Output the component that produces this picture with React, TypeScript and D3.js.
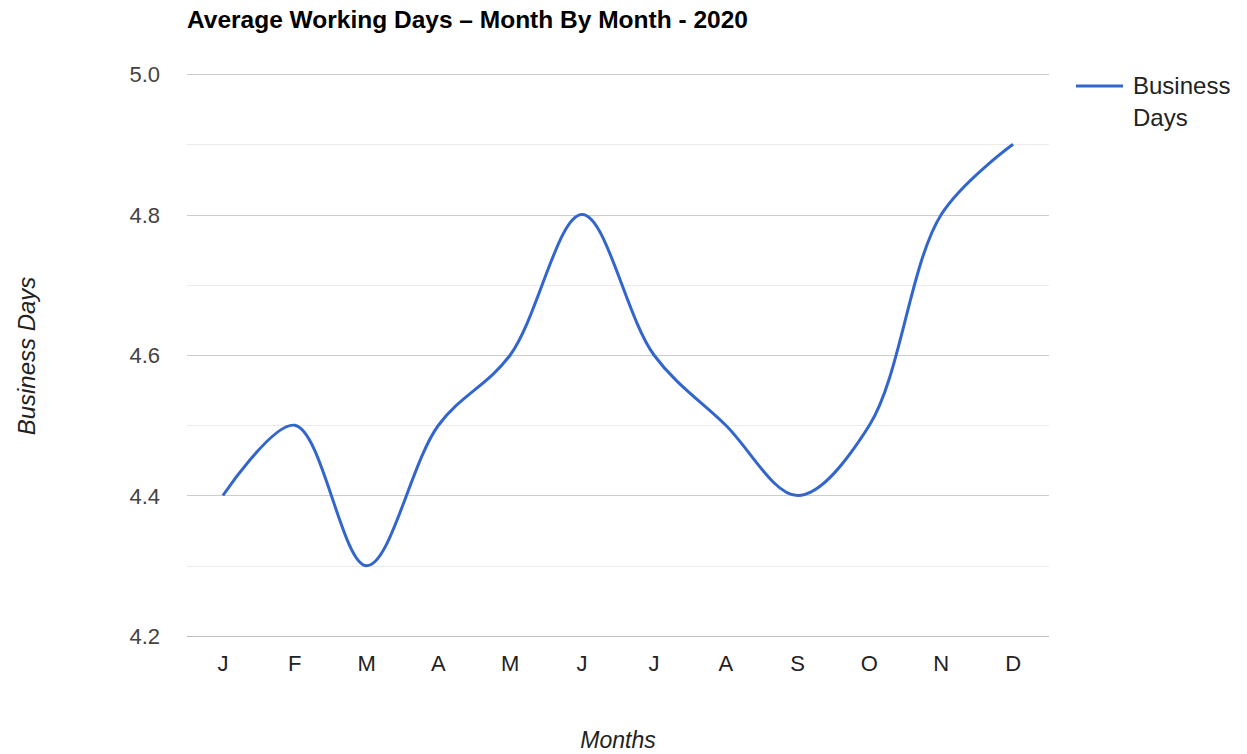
import React, { useEffect, useRef } from 'react';
import * as d3 from 'd3';

const months = ['J', 'F', 'M', 'A', 'M', 'J', 'J', 'A', 'S', 'O', 'N', 'D'];
const businessDays = [4.4, 4.5, 4.3, 4.5, 4.6, 4.8, 4.6, 4.5, 4.4, 4.5, 4.8, 4.9];
const majorTicks = [4.2, 4.4, 4.6, 4.8, 5.0];
const minorTicks = [4.3, 4.5, 4.7, 4.9];

const WIDTH = 1247;
const HEIGHT = 754;
const FONT = 'Arial, "Liberation Sans", sans-serif';

const App: React.FC = () => {
  const svgRef = useRef<SVGSVGElement | null>(null);

  useEffect(() => {
    const svgEl = svgRef.current;
    if (!svgEl) return;

    const margin = { top: 74, right: 198, bottom: 118, left: 187 };
    const innerWidth = WIDTH - margin.left - margin.right;
    const innerHeight = HEIGHT - margin.top - margin.bottom;

    const svg = d3.select(svgEl);
    svg.selectAll('*').remove();

    const x = d3.scaleBand<number>()
      .domain(months.map((_, i) => i))
      .range([0, innerWidth]);
    const y = d3.scaleLinear().domain([4.2, 5.0]).range([innerHeight, 0]);

    const g = svg.append('g').attr('transform', `translate(${margin.left},${margin.top})`);

    // minor gridlines
    g.append('g')
      .selectAll('line')
      .data(minorTicks)
      .join('line')
      .attr('x1', 0)
      .attr('x2', innerWidth)
      .attr('y1', (d) => Math.round(y(d)) + 0.5)
      .attr('y2', (d) => Math.round(y(d)) + 0.5)
      .attr('stroke', '#ebebeb');

    // major gridlines
    g.append('g')
      .selectAll('line')
      .data(majorTicks)
      .join('line')
      .attr('x1', 0)
      .attr('x2', innerWidth)
      .attr('y1', (d) => Math.round(y(d)) + 0.5)
      .attr('y2', (d) => Math.round(y(d)) + 0.5)
      .attr('stroke', (d) => (d === 4.2 ? '#bdbdbd' : '#cccccc'));

    // y tick labels
    g.append('g')
      .selectAll('text')
      .data(majorTicks)
      .join('text')
      .attr('x', -27)
      .attr('y', (d) => y(d) + 8)
      .attr('text-anchor', 'end')
      .attr('font-family', FONT)
      .attr('font-size', 22)
      .attr('fill', '#444')
      .text((d) => d3.format('.1f')(d));

    // x tick labels
    g.append('g')
      .selectAll('text')
      .data(months)
      .join('text')
      .attr('x', (_, i) => (x(i) as number) + x.bandwidth() / 2)
      .attr('y', innerHeight + 35)
      .attr('text-anchor', 'middle')
      .attr('font-family', FONT)
      .attr('font-size', 22)
      .attr('fill', '#222')
      .text((d) => d);

    // line
    const line = d3.line<number>()
      .x((_, i) => (x(i) as number) + x.bandwidth() / 2)
      .y((d) => y(d))
      .curve(d3.curveCatmullRom.alpha(0.5));

    g.append('path')
      .datum(businessDays)
      .attr('d', line)
      .attr('fill', 'none')
      .attr('stroke', '#3366cc')
      .attr('stroke-width', 3)
      .attr('stroke-linejoin', 'round');

    // title
    svg.append('text')
      .attr('x', 187)
      .attr('y', 28)
      .attr('font-family', FONT)
      .attr('font-size', 24.5)
      .attr('font-weight', 'bold')
      .attr('fill', '#000')
      .text('Average Working Days \u2013 Month By Month - 2020');

    // axis titles
    svg.append('text')
      .attr('transform', 'translate(35,356) rotate(-90)')
      .attr('text-anchor', 'middle')
      .attr('font-family', FONT)
      .attr('font-size', 24)
      .attr('font-style', 'italic')
      .attr('fill', '#222')
      .text('Business Days');

    svg.append('text')
      .attr('x', 618)
      .attr('y', 748)
      .attr('text-anchor', 'middle')
      .attr('font-family', FONT)
      .attr('font-size', 23)
      .attr('font-style', 'italic')
      .attr('fill', '#222')
      .text('Months');

    // legend
    const legend = svg.append('g').attr('transform', 'translate(1076,86)');
    legend.append('line')
      .attr('x1', 0)
      .attr('x2', 47)
      .attr('y1', 0)
      .attr('y2', 0)
      .attr('stroke', '#3366cc')
      .attr('stroke-width', 3);
    legend.append('text')
      .attr('x', 57)
      .attr('y', 8)
      .attr('font-family', FONT)
      .attr('font-size', 24)
      .attr('fill', '#222')
      .text('Business');
    legend.append('text')
      .attr('x', 57)
      .attr('y', 40)
      .attr('font-family', FONT)
      .attr('font-size', 24)
      .attr('fill', '#222')
      .text('Days');
  }, []);

  return (
    <svg
      ref={svgRef}
      width={WIDTH}
      height={HEIGHT}
      style={{ position: 'absolute', left: 0, top: 0, background: '#fff' }}
    />
  );
};

export default App;
